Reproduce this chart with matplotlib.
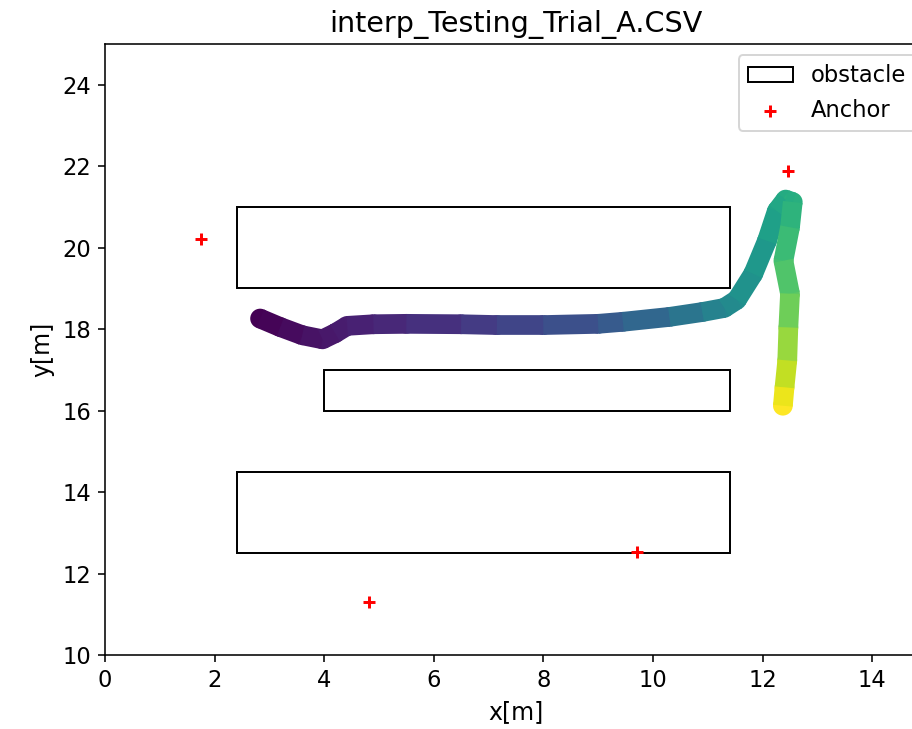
"""Trajectory plot for interp_Testing_Trial_A.CSV: obstacles, anchors, path."""

import matplotlib
matplotlib.use("Agg")
import matplotlib.pyplot as plt
import numpy as np
from matplotlib.collections import LineCollection
from matplotlib.patches import Rectangle

# obstacles: (x0, y0, width, height)
obstacles = [
    (2.4, 19.0, 9.0, 2.0),
    (4.0, 16.0, 7.4, 1.0),
    (2.4, 12.5, 9.0, 2.0),
]

anchor_x = [1.75, 4.82, 9.71, 12.47]
anchor_y = [20.22, 11.30, 12.52, 21.89]

# path waypoints, t = colour position (time fraction)
path_x = [2.83, 3.20, 3.60, 3.97, 4.20, 4.42, 4.90, 5.50, 6.50, 7.15, 8.00,
          9.00, 9.45, 10.30, 10.90, 11.30, 11.53, 11.83, 12.08, 12.26, 12.42,
          12.55, 12.50, 12.38, 12.50, 12.47, 12.45, 12.40, 12.37]
path_y = [18.26, 18.05, 17.85, 17.75, 17.90, 18.08, 18.12, 18.13, 18.12, 18.10,
          18.10, 18.13, 18.18, 18.30, 18.42, 18.52, 18.72, 19.36, 20.17, 20.90,
          21.18, 21.12, 20.50, 19.68, 18.87, 18.04, 17.23, 16.57, 16.12]
path_t = [0.00, 0.02, 0.04, 0.06, 0.07, 0.08, 0.10, 0.12, 0.16, 0.19, 0.22,
          0.27, 0.30, 0.36, 0.42, 0.46, 0.49, 0.52, 0.55, 0.58, 0.61,
          0.63, 0.66, 0.70, 0.75, 0.81, 0.88, 0.94, 1.00]

plt.rcParams["font.size"] = 11.5

fig = plt.figure(figsize=(912 / 142, 729 / 142), dpi=142)
ax = fig.add_axes([105 / 912, 74 / 729, 822 / 912, 611 / 729])

for i, (x0, y0, w, h) in enumerate(obstacles):
    ax.add_patch(Rectangle((x0, y0), w, h, fill=False, edgecolor="black",
                           linewidth=1.0, label="obstacle" if i == 0 else None))

# thick path: butt-capped coloured segments over round dots at each vertex
lw = 10.0
pts = np.column_stack([path_x, path_y]).reshape(-1, 1, 2)
segs = np.concatenate([pts[:-1], pts[1:]], axis=1)
seg_t = (np.array(path_t[:-1]) + np.array(path_t[1:])) / 2.0
ax.scatter(path_x, path_y, c=path_t, cmap="viridis", vmin=0, vmax=1,
           s=lw ** 2, linewidths=0, zorder=2)
lc = LineCollection(segs, cmap="viridis", linewidths=lw, capstyle="butt",
                    zorder=2.1)
lc.set_array(seg_t)
lc.set_clim(0, 1)
ax.add_collection(lc)

ax.scatter(anchor_x, anchor_y, marker="+", c="r", s=36, label="Anchor",
           zorder=3)

ax.set_xlim(0, 15)
ax.set_ylim(10, 25)
ax.set_xticks(range(0, 15, 2))
ax.set_yticks(range(10, 25, 2))
ax.set_xlabel("x[m]", fontsize=12)
ax.set_ylabel("y[m]", fontsize=12)
ax.set_title("interp_Testing_Trial_A.CSV", fontsize=14.5)
ax.legend(loc="upper right", fontsize=11.5)

fig.savefig("out.png", dpi=142)
